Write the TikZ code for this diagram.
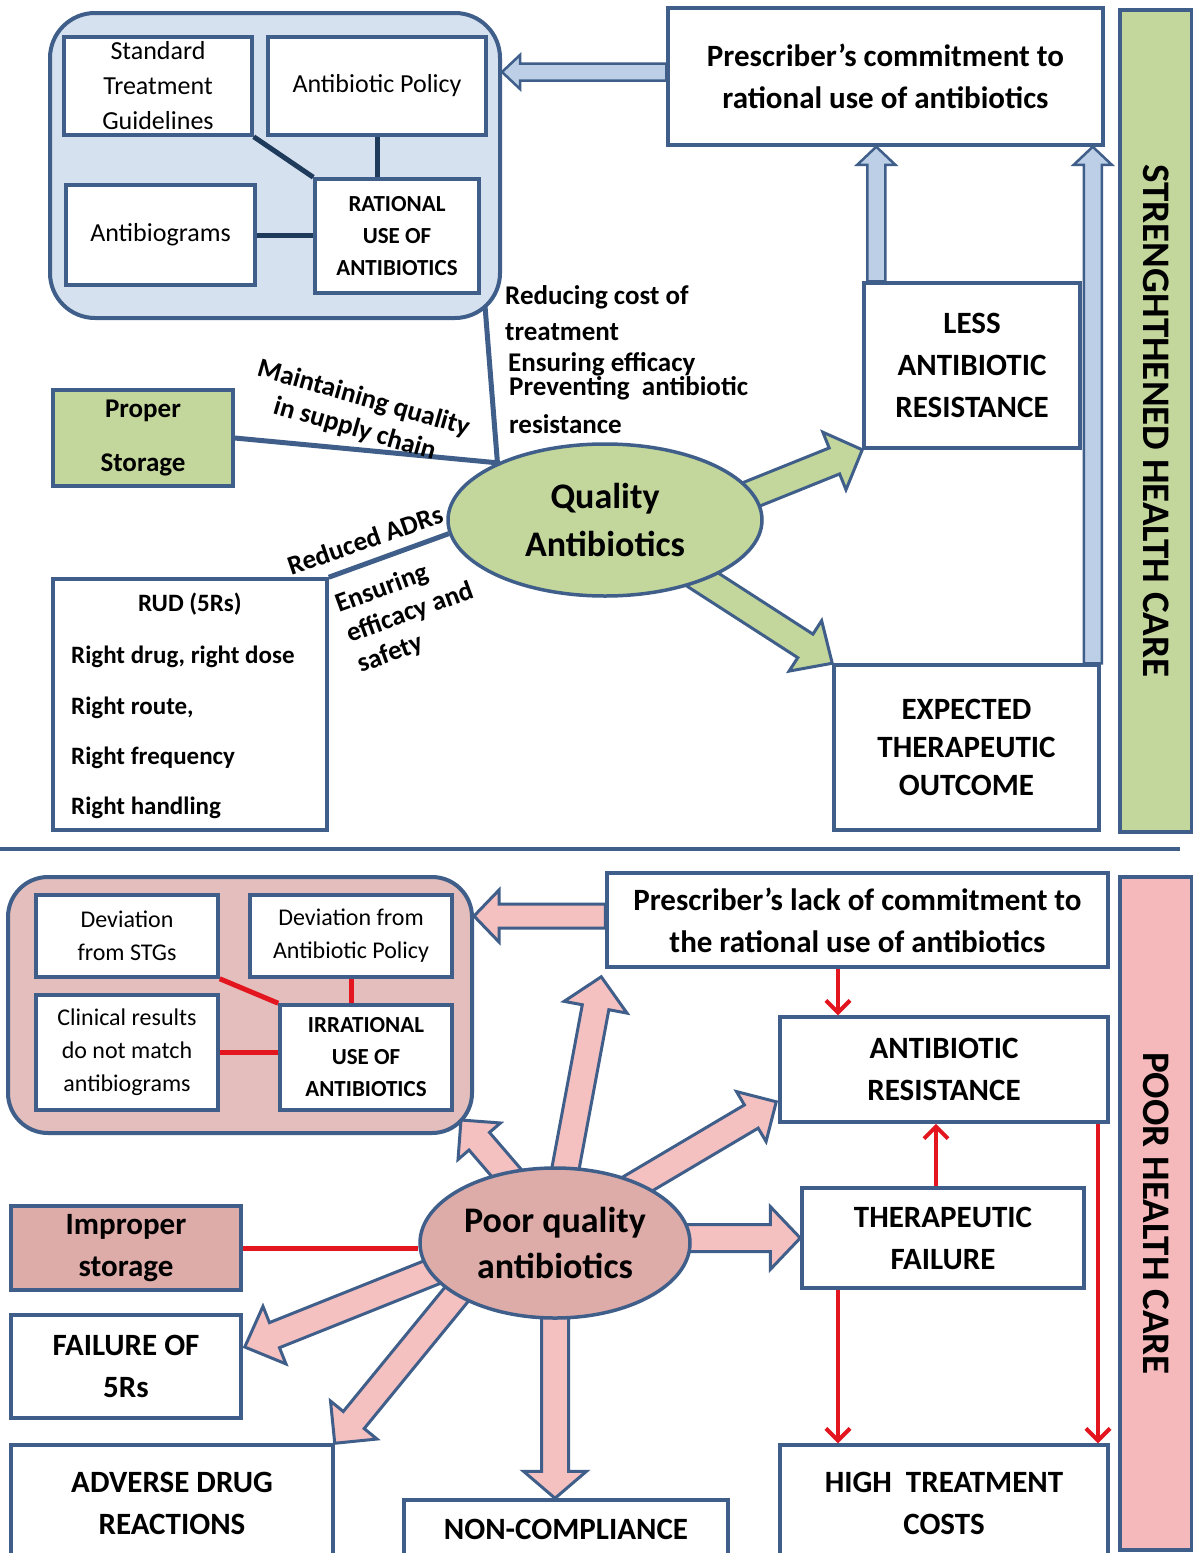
\documentclass[tikz,border=0pt]{standalone}
\usepackage{fontspec}
\setmainfont{Carlito}
\usetikzlibrary{calc,shapes.geometric,arrows.meta}
\definecolor{bord}{HTML}{3F5F8A}
\definecolor{cblue}{HTML}{D6E1EF}
\definecolor{ablue}{HTML}{BCCFE7}
\definecolor{dkblue}{HTML}{1F3B5C}
\definecolor{grn}{HTML}{C3D69B}
\definecolor{pinkc}{HTML}{E4BEBC}
\definecolor{pinke}{HTML}{DDABA8}
\definecolor{pinka}{HTML}{F4C0C0}
\definecolor{pinks}{HTML}{F5B9BC}
\definecolor{redl}{HTML}{E3151E}
\pgfdeclarelayer{bg}
\pgfsetlayers{bg,main}
\newcommand\fs[2]{\fontsize{#1}{#2}\selectfont}
\newcommand\bx[7]{\node[#2,minimum width={#5-#3},minimum height={#6-#4}] (#1) at ({(#3+#5)/2},{(#4+#6)/2}) {#7};}
\newcommand\fatarr[6]{%
  \coordinate (faC) at ($(#3)!#6!(#2)$);
  \draw[#1] ($(#2)!#4!90:(#3)$) -- ($(faC)!#4!90:(#3)$) -- ($(faC)!#5!90:(#3)$) -- (#3)
    -- ($(faC)!#5!-90:(#3)$) -- ($(faC)!#4!-90:(#3)$) -- ($(#2)!#4!-90:(#3)$) -- cycle;}
\begin{document}
\begin{tikzpicture}[x=1pt,y=-1pt,
  bx/.style={draw=bord,line width=3.5pt,fill=white,align=center,inner sep=0pt,text=black},
  hb/.style={bx,font=\bfseries\fs{31}{42}},
  nb/.style={bx,font=\fs{26}{35}},
  sb/.style={bx,font=\fs{24}{33}},
  lbl/.style={font=\bfseries\fs{25}{32},inner sep=0pt,align=center},
  tlbl/.style={font=\bfseries\fs{27}{32},inner sep=0pt,align=center},
  conn/.style={draw=dkblue,line width=5pt},
  bconn/.style={draw=bord,line width=5pt},
  rconn/.style={draw=redl,line width=5pt},
  rarr/.style={draw=redl,line width=4pt,-{Straight Barb[length=12pt,width=24pt]}},
  garr/.style={fill=grn,draw=bord,line width=3pt},
  barr/.style={fill=ablue,draw=bord,line width=2.5pt},
  parr/.style={fill=pinka,draw=bord,line width=3pt}]
\useasboundingbox (0,0) rectangle (1193,1553);

% ---------------- top half ----------------
\node[draw=bord,line width=4pt,fill=cblue,rounded corners=45pt,minimum width=450,minimum height=305,inner sep=0pt] (cont1) at (275,165.5) {};
\bx{stg}{nb}{64}{37}{252}{135}{Standard\\Treatment\\Guidelines}
\bx{pol}{nb}{268}{37}{486}{135}{Antibiotic Policy}
\bx{abg}{nb}{66}{185}{255}{285}{Antibiograms}
\bx{rat}{bx,font=\bfseries\fs{23}{32}}{315}{179}{479}{293}{RATIONAL\\USE OF\\ANTIBIOTICS}
\draw[conn] (stg.south east) -- (rat.north west);
\draw[conn] (pol.south) -- (pol.south |- rat.north);
\draw[conn] (abg.east) -- (abg.east -| rat.west);

\bx{pres}{hb}{668}{8}{1103}{145}{Prescriber’s commitment to\\rational use of antibiotics}
\bx{less}{hb}{864}{283}{1080}{448}{LESS\\ANTIBIOTIC\\RESISTANCE}
\bx{exp}{bx,font=\bfseries\fs{31}{38}}{834}{665}{1099}{830}{EXPECTED\\THERAPEUTIC\\OUTCOME}
\bx{side1}{bx,fill=grn}{1120}{10}{1192}{832}{}
\node[rotate=-90,font=\bfseries\fs{39}{40}] (t1) at (side1.center) {STRENGHTHENED HEALTH CARE};

\node[ellipse,draw=bord,line width=3.5pt,fill=grn,minimum width=314,minimum height=152,inner sep=0pt,align=center,font=\bfseries\fs{36}{48}] (qa) at (605,520) {Quality\\Antibiotics};

\bx{prop}{bx,fill=grn,font=\bfseries\fs{27}{54}}{53}{390}{233}{486}{Proper\\Storage}
\coordinate (qj) at (qa.152);
\coordinate (cb) at (485,306);
\draw[bconn] (prop.east) -- (qj) -- (cb);
\node[tlbl,rotate=-16] (mq) at (359,414) {Maintaining quality\\in supply chain};

\node[tlbl,anchor=west] (rc1) at (505,297) {Reducing cost of};
\node[tlbl,anchor=west] (rc2) at (505,332) {treatment};
\node[tlbl,anchor=west] (rc3) at (508,364) {Ensuring efficacy};
\node[tlbl,anchor=west] (rc4) at (509,388) {Preventing\ \ antibiotic};
\node[tlbl,anchor=west] (rc5) at (509,424) {resistance};

\bx{rud}{bx}{53}{579}{327}{830}{}
\coordinate (ql) at (qa.185);
\draw[bconn] (rud.north east) -- (ql);
\node[lbl] (rud0) at (190,604) {RUD (5Rs)};
\node[lbl,anchor=west] (rud1) at (71,657) {Right drug, right dose};
\node[lbl,anchor=west] (rud2) at (71,708) {Right route,};
\node[lbl,anchor=west] (rud3) at (71,758) {Right frequency};
\node[lbl,anchor=west] (rud4) at (71,808) {Right handling};
\node[tlbl,rotate=19] (radr) at (365,540) {Reduced ADRs};
\node[tlbl,rotate=20,align=left] (ens) at (410,613) {Ensuring\\efficacy and\\safety};

\coordinate (dvl) at (0,849);
\coordinate (dvr) at (1180,849);
\draw[draw=bord,line width=4pt] (dvl) -- (dvr);

% ---------------- bottom half ----------------
\node[draw=bord,line width=4pt,fill=pinkc,rounded corners=40pt,minimum width=464,minimum height=256,inner sep=0pt] (cont2) at (240,1005) {};
\bx{dstg}{sb}{36}{895}{218}{977}{Deviation\\from STGs}
\bx{dpol}{sb}{250}{895}{452}{977}{Deviation from\\Antibiotic Policy}
\bx{clin}{sb}{36}{995}{218}{1110}{Clinical results\\do not match\\antibiograms}
\bx{irr}{bx,font=\bfseries\fs{23}{32}}{280}{1005}{452}{1110}{IRRATIONAL\\USE OF\\ANTIBIOTICS}
\draw[rconn] (dstg.south east) -- (irr.north west);
\draw[rconn] (dpol.south) -- (dpol.south |- irr.north);
\draw[rconn] (clin.east) -- (clin.east -| irr.west);

\bx{lack}{hb}{607}{873}{1108}{967}{Prescriber’s lack of commitment to\\the rational use of antibiotics}
\bx{ares}{hb}{780}{1017}{1108}{1122}{ANTIBIOTIC\\RESISTANCE}
\bx{tf}{hb}{802}{1188}{1084}{1288}{THERAPEUTIC\\FAILURE}
\bx{htc}{hb}{780}{1445}{1108}{1562}{HIGH\ \ TREATMENT\\COSTS}
\bx{side2}{bx,fill=pinks}{1120}{877}{1192}{1550}{}
\node[rotate=-90,font=\bfseries\fs{39}{40}] (t2) at (side2.center) {POOR HEALTH CARE};

\node[ellipse,draw=bord,line width=3.5pt,fill=pinke,minimum width=270,minimum height=150,inner sep=0pt,align=center,font=\bfseries\fs{36}{46}] (pq) at (555,1243) {Poor quality\\antibiotics};

\bx{imp}{bx,fill=pinke,font=\bfseries\fs{31}{42}}{11}{1206}{241}{1290}{Improper\\storage}
\bx{f5r}{hb}{11}{1315}{241}{1418}{FAILURE OF\\5Rs}
\bx{adr}{hb}{11}{1445}{333}{1562}{ADVERSE DRUG\\REACTIONS}
\bx{nc}{hb}{404}{1500}{728}{1562}{}
\node[font=\bfseries\fs{31}{42}] (nct) at (566,1529) {NON-COMPLIANCE};
\draw[rconn] (imp.east) -- (imp.east -| pq.west);

\coordinate (xa) at (838,0);
\coordinate (xb) at (936,0);
\coordinate (xc) at (1098,0);
\draw[rarr] (lack.south -| xa) -- (ares.north -| xa);
\draw[rarr] (tf.north -| xb) -- (ares.south -| xb);
\draw[rarr] (tf.south -| xa) -- (htc.north -| xa);
\draw[rarr] (ares.south -| xc) -- (htc.north -| xc);

% ---------------- block arrows (behind) ----------------
\begin{pgfonlayer}{bg}
\fill[white] (0,0) rectangle (1193,1553);
\coordinate (b1s) at ($(pres.west)+(0,-4.5)$);
\coordinate (b1e) at (b1s -| cont1.east);
\fatarr{barr}{b1s}{b1e}{8.5pt}{17pt}{18pt}
\coordinate (u1s) at ($(less.north west)+(14,0)$);
\coordinate (u1e) at (u1s |- pres.south);
\fatarr{barr}{u1s}{u1e}{9pt}{19pt}{18pt}
\coordinate (u2s) at ($(exp.north east)+(-8,0)$);
\coordinate (u2e) at (u2s |- pres.south);
\fatarr{barr}{u2s}{u2e}{9pt}{19pt}{18pt}
\coordinate (g1s) at (700,515);
\fatarr{garr}{g1s}{less.south west}{14pt}{31pt}{30pt}
\coordinate (g2s) at (680,565);
\fatarr{garr}{g2s}{exp.north west}{14pt}{30pt}{32pt}

\coordinate (p1s) at ($(lack.west)+(0,-4)$);
\coordinate (p1e) at (p1s -| cont2.east);
\fatarr{parr}{p1s}{p1e}{12pt}{26pt}{25pt}
\coordinate (q1) at (547,1220);
\coordinate (c2br) at (461,1120);
\fatarr{parr}{q1}{c2br}{13.5pt}{28pt}{28pt}
\coordinate (q2) at (554,1230);
\coordinate (q2e) at ($(lack.south west)+(-4,8)$);
\fatarr{parr}{q2}{q2e}{13.5pt}{32pt}{31pt}
\coordinate (q3) at (580,1218);
\coordinate (q3e) at ($(ares.south west)+(-2,-22)$);
\fatarr{parr}{q3}{q3e}{13.5pt}{29pt}{29pt}
\coordinate (q4) at (pq.center |- tf.west);
\fatarr{parr}{q4}{tf.west}{13.5pt}{31.5pt}{30pt}
\coordinate (q5) at (520,1237);
\coordinate (q5e) at ($(f5r.east)+(2,-19.5)$);
\fatarr{parr}{q5}{q5e}{13.5pt}{31pt}{32pt}
\coordinate (q6) at (510,1229);
\fatarr{parr}{q6}{adr.north east}{13.5pt}{30pt}{30pt}
\coordinate (q7) at (pq.center |- nc.north);
\fatarr{parr}{pq.center}{q7}{13.5pt}{31.5pt}{27pt}
\end{pgfonlayer}
\end{tikzpicture}
\end{document}
